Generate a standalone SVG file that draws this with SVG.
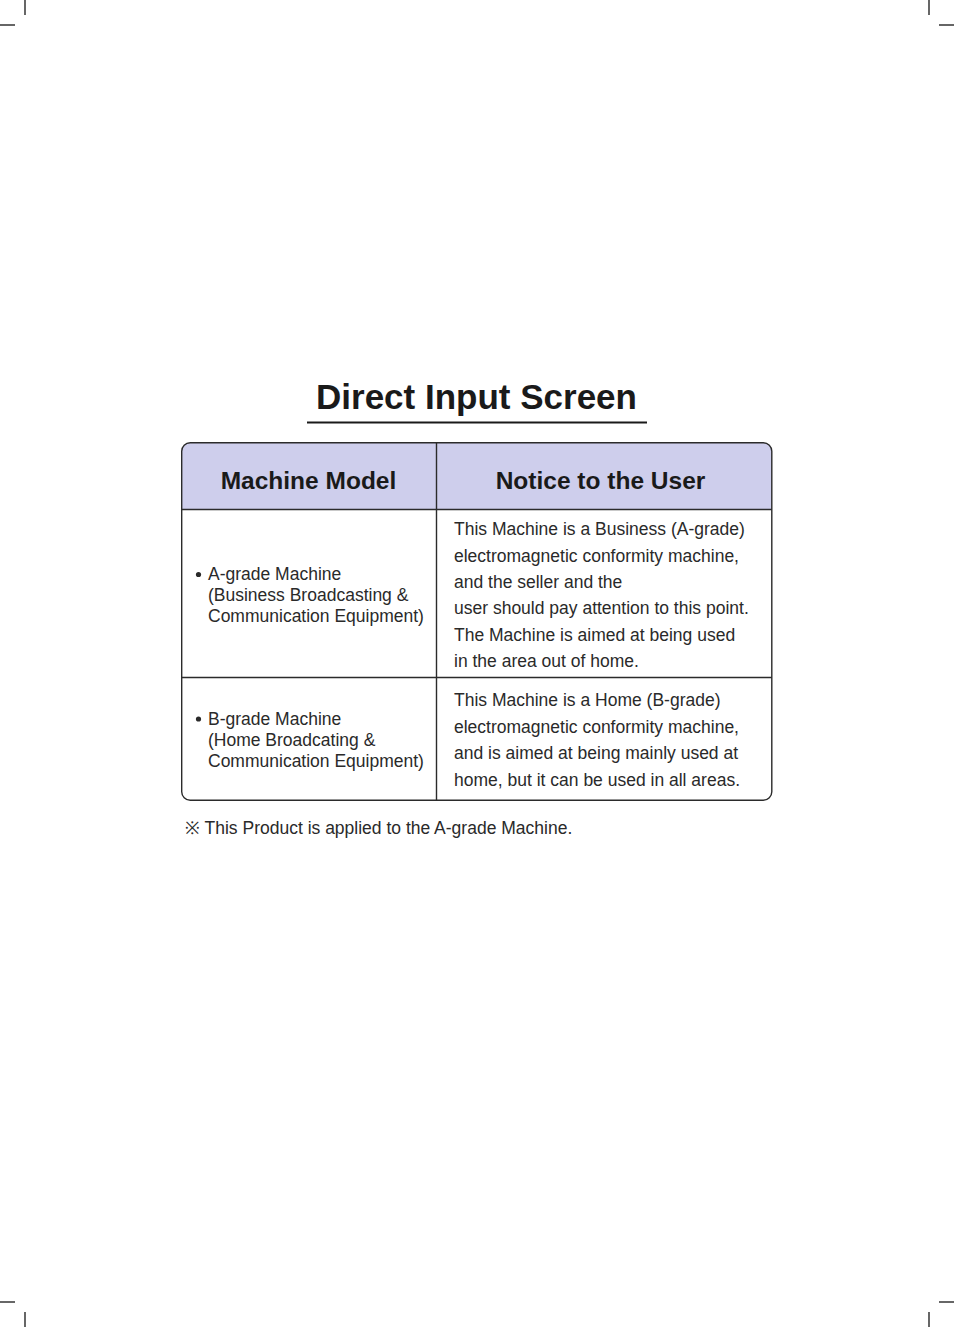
<svg xmlns="http://www.w3.org/2000/svg" width="954" height="1327" viewBox="0 0 954 1327">
<style>
.crop{stroke:#000;stroke-width:1.2;fill:none}
.grid{stroke:#2b2b2b;stroke-width:1.4;fill:none}
.title{font-family:"Liberation Sans",Arial,sans-serif;font-weight:bold;font-size:35px;fill:#1a1a1a}
.head{font-family:"Liberation Sans",Arial,sans-serif;font-weight:bold;font-size:24.5px;fill:#1a1a1a}
.body{font-family:"Liberation Sans",Arial,sans-serif;font-size:17.5px;fill:#2a2a2a}
</style>
<rect width="954" height="1327" fill="#fff"/>
<g id="crop-marks">
<line class="crop" x1="25" y1="0" x2="25" y2="15"/>
<line class="crop" x1="0" y1="25" x2="15" y2="25"/>
<line class="crop" x1="929" y1="0" x2="929" y2="15"/>
<line class="crop" x1="939" y1="25" x2="954" y2="25"/>
<line class="crop" x1="0" y1="1302" x2="15" y2="1302"/>
<line class="crop" x1="25" y1="1312" x2="25" y2="1327"/>
<line class="crop" x1="939" y1="1302" x2="954" y2="1302"/>
<line class="crop" x1="929" y1="1312" x2="929" y2="1327"/>
</g>
<g id="title">
<text class="title" x="476.5" y="409" text-anchor="middle">Direct Input Screen</text>
<line x1="307" y1="422.5" x2="647" y2="422.5" stroke="#1a1a1a" stroke-width="2"/>
</g>
<g id="table">
<path d="M181.7,509 V451 A8.5,8.5 0 0 1 190.2,442.7 H763.3 A8.5,8.5 0 0 1 771.8,451 V509 Z" fill="#CECEEC"/>
<rect class="grid" x="181.7" y="442.7" width="590.1" height="357.6" rx="8.5"/>
<line class="grid" x1="181.7" y1="509.5" x2="771.8" y2="509.5"/>
<line class="grid" x1="181.7" y1="677.5" x2="771.8" y2="677.5"/>
<line class="grid" x1="436.5" y1="442.7" x2="436.5" y2="800.3"/>
</g>
<g id="header-model"><text class="head" x="308.5" y="489" text-anchor="middle">Machine Model</text></g>
<g id="header-notice"><text class="head" x="600.5" y="489" text-anchor="middle">Notice to the User</text></g>
<g id="row-a-model">
<circle cx="198.5" cy="574.5" r="2.6" fill="#2a2a2a"/>
<text class="body" x="208" y="580">A-grade Machine</text>
<text class="body" x="208" y="601">(Business Broadcasting &amp;</text>
<text class="body" x="208" y="622">Communication Equipment)</text>
</g>
<g id="row-a-notice">
<text class="body" x="454" y="535">This Machine is a Business (A-grade)</text>
<text class="body" x="454" y="561.5">electromagnetic conformity machine,</text>
<text class="body" x="454" y="588">and the seller and the</text>
<text class="body" x="454" y="614">user should pay attention to this point.</text>
<text class="body" x="454" y="640.5">The Machine is aimed at being used</text>
<text class="body" x="454" y="667">in the area out of home.</text>
</g>
<g id="row-b-model">
<circle cx="198.5" cy="719" r="2.6" fill="#2a2a2a"/>
<text class="body" x="208" y="725">B-grade Machine</text>
<text class="body" x="208" y="746">(Home Broadcating &amp;</text>
<text class="body" x="208" y="767">Communication Equipment)</text>
</g>
<g id="row-b-notice">
<text class="body" x="454" y="706">This Machine is a Home (B-grade)</text>
<text class="body" x="454" y="732.5">electromagnetic conformity machine,</text>
<text class="body" x="454" y="759">and is aimed at being mainly used at</text>
<text class="body" x="454" y="785.5">home, but it can be used in all areas.</text>
</g>
<g id="footnote">
<text class="body" x="185" y="834">※ This Product is applied to the A-grade Machine.</text>
</g>
</svg>
